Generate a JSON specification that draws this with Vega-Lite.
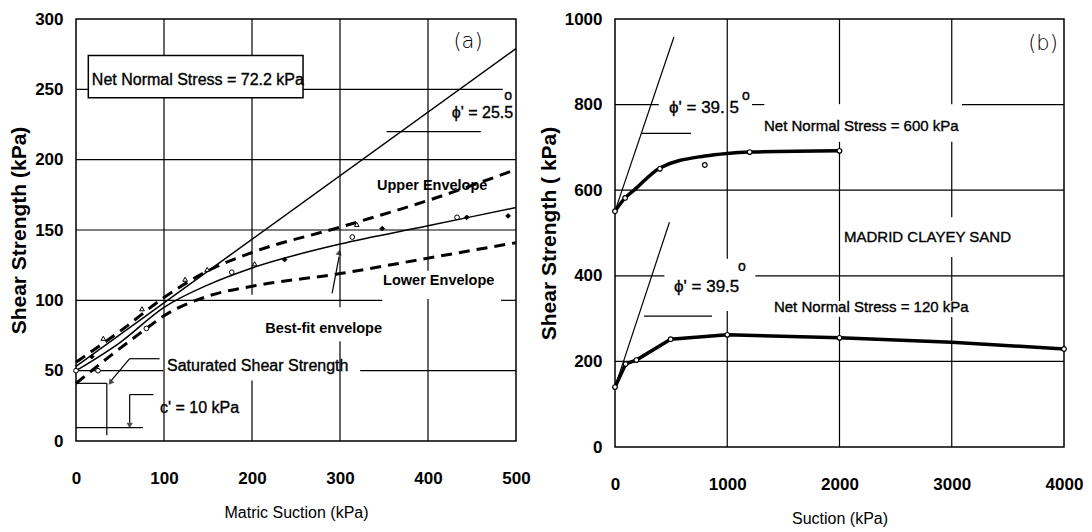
{
  "$schema": "https://vega.github.io/schema/vega-lite/v6.json",
  "background": "white",
  "padding": {"left": 7, "top": 9, "right": 0, "bottom": 0},
  "spacing": 6,
  "config": {
    "font": "Liberation Sans",
    "view": {"stroke": "black", "strokeWidth": 1.5},
    "axis": {"grid": false, "ticks": false, "domain": false, "labelFont": "Liberation Sans", "labelFontWeight": "bold", "labelFontSize": 17, "labelColor": "black", "titleColor": "black", "titleFont": "Liberation Sans", "labelFlush": false, "labelOverlap": false, "format": "d"},
    "axisY": {"labelPadding": 13, "titleFontSize": 21, "titleFontWeight": "bold", "titlePadding": 5},
    "axisX": {"labelPadding": 29, "titleFontSize": 16, "titleFontWeight": "normal", "titlePadding": 18},
    "text": {"color": "black"}
  },
  "datasets": {
    "gridA": [
      {"x": 0, "x2": 485, "y": 250, "y2": 250},
      {"x": 0, "x2": 500, "y": 200, "y2": 200},
      {"x": 0, "x2": 500, "y": 150, "y2": 150},
      {"x": 0, "x2": 348, "y": 100, "y2": 100},
      {"x": 483, "x2": 500, "y": 100, "y2": 100},
      {"x": 0, "x2": 99, "y": 50, "y2": 50},
      {"x": 323, "x2": 500, "y": 50, "y2": 50},
      {"x": 100, "x2": 100, "y": 0, "y2": 300},
      {"x": 200, "x2": 200, "y": 0, "y2": 43},
      {"x": 200, "x2": 200, "y": 104, "y2": 300},
      {"x": 300, "x2": 300, "y": 0, "y2": 71},
      {"x": 300, "x2": 300, "y": 95, "y2": 300},
      {"x": 400, "x2": 400, "y": 0, "y2": 101},
      {"x": 400, "x2": 400, "y": 121, "y2": 300}
    ],
    "leadA": [
      {"x": 353, "x2": 460, "y": 220, "y2": 220},
      {"x": 61, "x2": 95, "y": 58.5, "y2": 58.5},
      {"x": 61, "x2": 40, "y": 58.5, "y2": 43},
      {"x": 0, "x2": 35, "y": 41, "y2": 41},
      {"x": 35, "x2": 35, "y": 41, "y2": 4},
      {"x": 61, "x2": 88, "y": 33, "y2": 33},
      {"x": 61, "x2": 61, "y": 33, "y2": 13},
      {"x": 0, "x2": 76, "y": 9.5, "y2": 9.5},
      {"x": 291, "x2": 299, "y": 105, "y2": 131}
    ],
    "tickAy": [{"y":10},{"y":20},{"y":30},{"y":40},{"y":60},{"y":70},{"y":80},{"y":90},{"y":110},{"y":120},{"y":130},{"y":140},{"y":160},{"y":170},{"y":180},{"y":190},{"y":210},{"y":220},{"y":230},{"y":240},{"y":260},{"y":270},{"y":280},{"y":290}],
    "tickAx": [{"x":12.5},{"x":25},{"x":37.5},{"x":50},{"x":62.5},{"x":75},{"x":87.5},{"x":112.5},{"x":125},{"x":137.5},{"x":150},{"x":162.5},{"x":175},{"x":187.5},{"x":212.5},{"x":225},{"x":237.5},{"x":250},{"x":262.5},{"x":275},{"x":287.5},{"x":312.5},{"x":325},{"x":337.5},{"x":350},{"x":362.5},{"x":375},{"x":387.5},{"x":412.5},{"x":425},{"x":437.5},{"x":450},{"x":462.5},{"x":475},{"x":487.5}],
    "curvesA": [
      {"c": "phi", "x": 0, "y": 53}, {"c": "phi", "x": 500, "y": 279},
      {"c": "best", "x": 0, "y": 50}, {"c": "best", "x": 50, "y": 70}, {"c": "best", "x": 100, "y": 95}, {"c": "best", "x": 150, "y": 111}, {"c": "best", "x": 200, "y": 123}, {"c": "best", "x": 300, "y": 140}, {"c": "best", "x": 400, "y": 153}, {"c": "best", "x": 500, "y": 166},
      {"c": "upper", "x": 0, "y": 56}, {"c": "upper", "x": 50, "y": 78}, {"c": "upper", "x": 100, "y": 102}, {"c": "upper", "x": 150, "y": 121}, {"c": "upper", "x": 200, "y": 134}, {"c": "upper", "x": 300, "y": 152}, {"c": "upper", "x": 400, "y": 171}, {"c": "upper", "x": 500, "y": 193},
      {"c": "lower", "x": 0, "y": 41}, {"c": "lower", "x": 40, "y": 61}, {"c": "lower", "x": 80, "y": 80}, {"c": "lower", "x": 100, "y": 89}, {"c": "lower", "x": 150, "y": 103}, {"c": "lower", "x": 200, "y": 110}, {"c": "lower", "x": 300, "y": 119}, {"c": "lower", "x": 400, "y": 130}, {"c": "lower", "x": 500, "y": 141}
    ],
    "ptsA": [
      {"k": "o", "x": 0, "y": 50}, {"k": "o", "x": 25, "y": 50}, {"k": "o", "x": 80, "y": 80}, {"k": "o", "x": 177, "y": 120}, {"k": "o", "x": 314, "y": 145}, {"k": "o", "x": 433, "y": 159},
      {"k": "d", "x": 18, "y": 60}, {"k": "d", "x": 237, "y": 129}, {"k": "d", "x": 348, "y": 151}, {"k": "d", "x": 444, "y": 159}, {"k": "d", "x": 491, "y": 160},
      {"k": "t", "x": 31, "y": 73}, {"k": "t", "x": 75, "y": 94}, {"k": "t", "x": 124, "y": 115}, {"k": "t", "x": 149, "y": 122}, {"k": "t", "x": 203, "y": 126}, {"k": "t", "x": 319, "y": 154}
    ],
    "gridB": [
      {"x": 0, "x2": 390, "y": 800, "y2": 800},
      {"x": 1220, "x2": 1330, "y": 800, "y2": 800},
      {"x": 3090, "x2": 4000, "y": 800, "y2": 800},
      {"x": 0, "x2": 4000, "y": 600, "y2": 600},
      {"x": 0, "x2": 440, "y": 400, "y2": 400},
      {"x": 1250, "x2": 4000, "y": 400, "y2": 400},
      {"x": 0, "x2": 4000, "y": 200, "y2": 200},
      {"x": 1000, "x2": 1000, "y": 0, "y2": 318},
      {"x": 1000, "x2": 1000, "y": 440, "y2": 1000},
      {"x": 2000, "x2": 2000, "y": 0, "y2": 304},
      {"x": 2000, "x2": 2000, "y": 341, "y2": 713},
      {"x": 2000, "x2": 2000, "y": 801, "y2": 1000},
      {"x": 3000, "x2": 3000, "y": 0, "y2": 304},
      {"x": 3000, "x2": 3000, "y": 341, "y2": 444},
      {"x": 3000, "x2": 3000, "y": 537, "y2": 713},
      {"x": 3000, "x2": 3000, "y": 801, "y2": 1000},
      {"x": 240, "x2": 677, "y": 733, "y2": 733},
      {"x": 258, "x2": 864, "y": 306, "y2": 306}
    ],
    "tickBy": [{"y":25},{"y":50},{"y":75},{"y":100},{"y":125},{"y":150},{"y":175},{"y":225},{"y":250},{"y":275},{"y":300},{"y":325},{"y":350},{"y":375},{"y":425},{"y":450},{"y":475},{"y":500},{"y":525},{"y":550},{"y":575},{"y":625},{"y":650},{"y":675},{"y":700},{"y":725},{"y":750},{"y":775},{"y":825},{"y":850},{"y":875},{"y":900},{"y":925},{"y":950},{"y":975}],
    "tickBx": [{"x":200},{"x":400},{"x":600},{"x":800},{"x":1200},{"x":1400},{"x":1600},{"x":1800},{"x":2200},{"x":2400},{"x":2600},{"x":2800},{"x":3200},{"x":3400},{"x":3600},{"x":3800}],
    "curvesB": [
      {"c": "c600", "x": 0, "y": 551}, {"c": "c600", "x": 90, "y": 582}, {"c": "c600", "x": 170, "y": 600}, {"c": "c600", "x": 400, "y": 652}, {"c": "c600", "x": 800, "y": 680}, {"c": "c600", "x": 1000, "y": 686}, {"c": "c600", "x": 1200, "y": 689}, {"c": "c600", "x": 2000, "y": 692},
      {"c": "c120", "x": 0, "y": 140}, {"c": "c120", "x": 95, "y": 194}, {"c": "c120", "x": 190, "y": 203}, {"c": "c120", "x": 496, "y": 252}, {"c": "c120", "x": 1000, "y": 262}, {"c": "c120", "x": 2000, "y": 255}, {"c": "c120", "x": 3000, "y": 245}, {"c": "c120", "x": 4000, "y": 229},
      {"c": "phi600", "x": 0, "y": 551}, {"c": "phi600", "x": 525, "y": 958},
      {"c": "phi120", "x": 0, "y": 140}, {"c": "phi120", "x": 485, "y": 525}
    ],
    "ptsB": [
      {"x": 0, "y": 551}, {"x": 90, "y": 582}, {"x": 400, "y": 650}, {"x": 800, "y": 659}, {"x": 1200, "y": 689}, {"x": 2000, "y": 692},
      {"x": 0, "y": 140}, {"x": 95, "y": 194}, {"x": 190, "y": 203}, {"x": 496, "y": 252}, {"x": 1000, "y": 262}, {"x": 2000, "y": 255}, {"x": 4000, "y": 229}
    ]
  },
  "hconcat": [
    {
      "width": 440,
      "height": 422,
      "encoding": {
        "x": {"field": "x", "type": "quantitative", "scale": {"domain": [0, 500], "nice": false, "zero": false}, "axis": {"values": [0, 100, 200, 300, 400, 500], "title": "Matric Suction (kPa)"}},
        "y": {"field": "y", "type": "quantitative", "scale": {"domain": [0, 300], "nice": false, "zero": false}, "axis": {"values": [0, 50, 100, 150, 200, 250, 300], "title": "Shear Strength (kPa)"}}
      },
      "layer": [
        {"data": {"name": "gridA"}, "mark": {"type": "rule", "color": "black", "strokeWidth": 1.2}, "encoding": {"x2": {"field": "x2"}, "y2": {"field": "y2"}}},
        {"data": {"name": "tickAy"}, "mark": {"type": "rule", "color": "black", "strokeWidth": 1}, "encoding": {"x": {"datum": 0}, "x2": {"datum": 5}}},
        {"data": {"name": "tickAx"}, "mark": {"type": "rule", "color": "black", "strokeWidth": 1}, "encoding": {"y": {"datum": 0}, "y2": {"datum": 3}}},
        {"data": {"name": "leadA"}, "mark": {"type": "rule", "color": "black", "strokeWidth": 1.2}, "encoding": {"x2": {"field": "x2"}, "y2": {"field": "y2"}}},
        {"data": {"values": [{"x": 14, "x2": 258, "y": 244, "y2": 274}]}, "mark": {"type": "rect", "fill": "white", "stroke": "black", "strokeWidth": 1.5}, "encoding": {"x2": {"field": "x2"}, "y2": {"field": "y2"}}},
        {"data": {"name": "curvesA"}, "transform": [{"filter": {"field": "c", "oneOf": ["phi", "best"]}}], "mark": {"type": "line", "color": "black", "strokeWidth": 1.5, "interpolate": "monotone"}, "encoding": {"detail": {"field": "c"}}},
        {"data": {"name": "curvesA"}, "transform": [{"filter": {"field": "c", "oneOf": ["upper", "lower"]}}], "mark": {"type": "line", "color": "black", "strokeWidth": 3, "strokeDash": [11, 7], "interpolate": "monotone"}, "encoding": {"detail": {"field": "c"}}},
        {"data": {"name": "ptsA"}, "mark": {"type": "point", "stroke": "black", "strokeWidth": 1, "size": 22, "opacity": 1}, "encoding": {
          "shape": {"field": "k", "type": "nominal", "scale": {"domain": ["o", "d", "t"], "range": ["circle", "diamond", "triangle-up"]}, "legend": null},
          "fill": {"field": "k", "type": "nominal", "scale": {"domain": ["o", "d", "t"], "range": ["white", "black", "white"]}, "legend": null}}},
        {"data": {"values": [{"x": 299, "y": 134}]}, "mark": {"type": "point", "shape": "triangle-up", "filled": true, "color": "black", "size": 40, "angle": 11}},
        {"data": {"values": [{"x": 39, "y": 41.5}]}, "mark": {"type": "point", "shape": "triangle-down", "filled": true, "color": "black", "size": 40, "angle": 38}},
        {"data": {"values": [{"x": 61, "y": 11}]}, "mark": {"type": "point", "shape": "triangle-down", "filled": true, "color": "black", "size": 40}},
        {"data": {"values": [
          {"x": 18, "y": 256.6, "t": "Net Normal Stress = 72.2 kPa"},
          {"x": 103.4, "y": 53.3, "t": "Saturated Shear Strength"},
          {"x": 95.5, "y": 23.5, "t": "c' = 10 kPa"}]},
          "mark": {"type": "text", "align": "left", "baseline": "middle", "fontSize": 16, "stroke": "black", "strokeWidth": 0.35}, "encoding": {"text": {"field": "t"}}},
        {"data": {"values": [
          {"x": 342, "y": 181, "t": "Upper Envelope"},
          {"x": 349, "y": 114, "t": "Lower Envelope"},
          {"x": 215, "y": 79.6, "t": "Best-fit envelope"}]},
          "mark": {"type": "text", "align": "left", "baseline": "middle", "fontSize": 14.5, "fontWeight": "bold"}, "encoding": {"text": {"field": "t"}}},
        {"data": {"values": [{"x": 427, "y": 233, "t": "ϕ' = 25.5"}]}, "mark": {"type": "text", "align": "left", "baseline": "middle", "fontSize": 16, "stroke": "black", "strokeWidth": 0.35}, "encoding": {"text": {"field": "t"}}},
        {"data": {"values": [{"x": 491, "y": 245, "t": "o"}]}, "mark": {"type": "text", "align": "center", "baseline": "middle", "fontSize": 14, "stroke": "black", "strokeWidth": 0.35}, "encoding": {"text": {"field": "t"}}},
        {"data": {"values": [{"x": 445.5, "y": 283.6, "t": "(a)"}]}, "mark": {"type": "text", "align": "center", "baseline": "middle", "fontSize": 21, "font": "DejaVu Sans", "fontWeight": 300}, "encoding": {"text": {"field": "t"}}}
      ]
    },
    {
      "width": 449,
      "height": 428,
      "encoding": {
        "x": {"field": "x", "type": "quantitative", "scale": {"domain": [0, 4000], "nice": false, "zero": false}, "axis": {"values": [0, 1000, 2000, 3000, 4000], "title": "Suction (kPa)"}},
        "y": {"field": "y", "type": "quantitative", "scale": {"domain": [0, 1000], "nice": false, "zero": false}, "axis": {"values": [0, 200, 400, 600, 800, 1000], "title": "Shear Strength ( kPa)"}}
      },
      "layer": [
        {"data": {"name": "gridB"}, "mark": {"type": "rule", "color": "black", "strokeWidth": 1.2}, "encoding": {"x2": {"field": "x2"}, "y2": {"field": "y2"}}},
        {"data": {"name": "tickBy"}, "mark": {"type": "rule", "color": "black", "strokeWidth": 1}, "encoding": {"x": {"datum": 0}, "x2": {"datum": 40}}},
        {"data": {"name": "tickBx"}, "mark": {"type": "rule", "color": "black", "strokeWidth": 1}, "encoding": {"y": {"datum": 0}, "y2": {"datum": 10}}},
        {"data": {"name": "curvesB"}, "transform": [{"filter": {"field": "c", "oneOf": ["phi600", "phi120"]}}], "mark": {"type": "line", "color": "black", "strokeWidth": 1.2}, "encoding": {"detail": {"field": "c"}}},
        {"data": {"name": "curvesB"}, "transform": [{"filter": {"field": "c", "equal": "c600"}}], "mark": {"type": "line", "color": "black", "strokeWidth": 3.5, "interpolate": "monotone"}},
        {"data": {"name": "curvesB"}, "transform": [{"filter": {"field": "c", "equal": "c120"}}], "mark": {"type": "line", "color": "black", "strokeWidth": 3.5}},
        {"data": {"name": "ptsB"}, "mark": {"type": "point", "shape": "circle", "stroke": "black", "strokeWidth": 1.2, "fill": "white", "filled": false, "size": 22, "opacity": 1}},
        {"data": {"values": [
          {"x": 1327, "y": 750, "t": "Net Normal Stress = 600 kPa"},
          {"x": 1416, "y": 327, "t": "Net Normal Stress = 120 kPa"},
          {"x": 2040, "y": 491, "t": "MADRID CLAYEY SAND"}]},
          "mark": {"type": "text", "align": "left", "baseline": "middle", "fontSize": 15, "stroke": "black", "strokeWidth": 0.35}, "encoding": {"text": {"field": "t"}}},
        {"data": {"values": [
          {"x": 481, "y": 792, "t": "ϕ' = 39. 5"},
          {"x": 526, "y": 374, "t": "ϕ' = 39.5"}]},
          "mark": {"type": "text", "align": "left", "baseline": "middle", "fontSize": 17, "stroke": "black", "strokeWidth": 0.35}, "encoding": {"text": {"field": "t"}}},
        {"data": {"values": [{"x": 1167, "y": 820, "t": "o"}, {"x": 1131, "y": 421, "t": "o"}]}, "mark": {"type": "text", "align": "center", "baseline": "middle", "fontSize": 14, "stroke": "black", "strokeWidth": 0.35}, "encoding": {"text": {"field": "t"}}},
        {"data": {"values": [{"x": 3813, "y": 942, "t": "(b)"}]}, "mark": {"type": "text", "align": "center", "baseline": "middle", "fontSize": 21, "font": "DejaVu Sans", "fontWeight": 300}, "encoding": {"text": {"field": "t"}}}
      ]
    }
  ]
}
